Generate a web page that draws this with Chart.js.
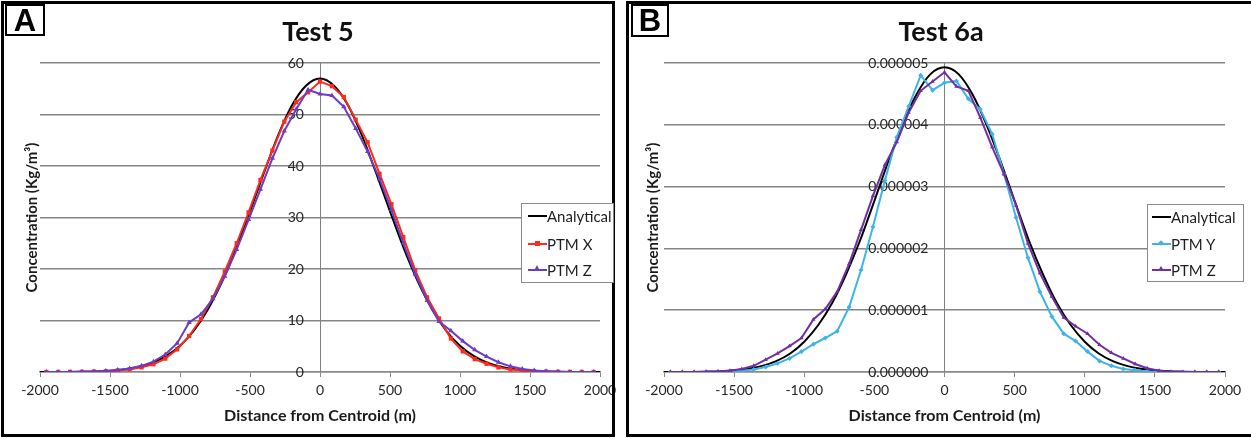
<!DOCTYPE html>
<html>
<head>
<meta charset="utf-8">
<script src="https://cdn.jsdelivr.net/npm/chart.js@4.4.1/dist/chart.umd.min.js"></script>
<style>
  body { margin: 0; width: 1251px; height: 438px; background: #fff; position: relative; overflow: hidden; font-family: Lato, 'Open Sans', sans-serif; }
  .wrap { position: absolute; top: 0; height: 438px; }
  .frame { position: absolute; border: 3px solid #000; box-sizing: border-box; pointer-events: none; }
  .letter { position: absolute; border: 2px solid #000; background: #fff; box-sizing: border-box; font: bold 31px 'Liberation Sans', Arial, sans-serif; text-align: center; line-height: 29px; color: #000; }
  .title { position: absolute; width: 200px; top: 13px; text-align: center; font: bold 27px Lato, sans-serif; line-height: 36px; color: #111; }
  .legend { position: absolute; border: 1px solid #8a8a8a; background: #fff; box-sizing: border-box; }
  .row { position: absolute; height: 18px; line-height: 18px; font: 15px Lato, sans-serif; color: #1e1e1e; white-space: nowrap; }
  .sw { display: inline-block; width: 19px; height: 18px; position: relative; vertical-align: top; }
  .sw i { position: absolute; left: 0; right: 0; top: 8px; height: 2px; }
  .sw b { position: absolute; }
</style>
</head>
<body>

<div class="wrap" style="left:0;width:625px"><canvas id="chart-a" width="625" height="438"></canvas></div>
<div class="wrap" style="left:625px;width:626px"><canvas id="chart-b" width="626" height="438"></canvas></div>

<div class="frame" style="left:1px;top:1px;width:614px;height:436px"></div>
<div class="frame" style="left:626px;top:1px;width:630px;height:436px"></div>

<div class="letter" style="left:5px;top:4px;width:40px;height:32px">A</div>
<div class="letter" style="left:631px;top:4px;width:38px;height:33px">B</div>

<div class="title" style="left:218px">Test 5</div>
<div class="title" style="left:841px">Test 6a</div>

<div class="legend" style="left:521px;top:203px;width:93px;height:80px">
  <div class="row" style="left:6px;top:3px"><span class="sw"><i style="background:#000"></i></span>Analytical</div>
  <div class="row" style="left:6px;top:31px"><span class="sw"><i style="background:#ff2a1a"></i><b style="left:7px;top:6px;width:5px;height:5px;background:#ff2a1a"></b></span>PTM X</div>
  <div class="row" style="left:6px;top:57px"><span class="sw"><i style="background:#6c3cc4"></i><b style="left:6px;top:4px;width:0;height:0;border-left:3px solid transparent;border-right:3px solid transparent;border-bottom:6px solid #6c3cc4"></b></span>PTM Z</div>
</div>

<div class="legend" style="left:1147px;top:204px;width:97px;height:78px">
  <div class="row" style="left:4px;top:3px"><span class="sw"><i style="background:#000"></i></span>Analytical</div>
  <div class="row" style="left:4px;top:30px"><span class="sw"><i style="background:#3db4e6"></i><b style="left:7px;top:6px;width:4px;height:4px;background:#3db4e6;transform:rotate(45deg)"></b></span>PTM Y</div>
  <div class="row" style="left:4px;top:56px"><span class="sw"><i style="background:#7030a0"></i><b style="left:6px;top:5px;width:0;height:0;border-left:3px solid transparent;border-right:3px solid transparent;border-bottom:5px solid #7030a0"></b></span>PTM Z</div>
</div>

<script>
// x positions of the particle-tracking samples (m)
const xGrid = [-1955, -1870, -1785, -1700, -1615, -1530, -1445, -1360, -1275, -1190, -1105, -1020,
  -935, -850, -765, -680, -595, -510, -425, -340, -255, -170, -85, 0, 85, 170, 255, 340, 425, 510,
  595, 680, 765, 850, 935, 1020, 1105, 1190, 1275, 1360, 1445, 1530, 1615, 1700, 1785, 1870, 1955];

// x positions of the analytical curve (m)
const xAnalytical = [-2000, -1900, -1800, -1700, -1600, -1500, -1400, -1300, -1200, -1100, -1000,
  -900, -800, -700, -600, -500, -400, -300, -200, -100, 0, 100, 200, 300, 400, 500, 600, 700, 800,
  900, 1000, 1100, 1200, 1300, 1400, 1500, 1600, 1700, 1800, 1900, 2000];

const xTicks = [-2000, -1500, -1000, -500, 0, 500, 1000, 1500, 2000];

// Test 5 (Kg/m3)
const analyticalA = [0, 0.01, 0.02, 0.05, 0.12, 0.25, 0.5, 0.96, 1.76, 3.07, 5.09, 8.06, 12.2, 17.5,
  23.9, 31.2, 38.7, 45.9, 51.8, 55.6, 57.0, 55.6, 51.8, 45.9, 38.7, 31.2, 23.9, 17.5, 12.2, 8.06, 5.09,
  3.07, 1.76, 0.96, 0.5, 0.25, 0.12, 0.05, 0.02, 0.01, 0];
const ptmXA = [0, 0, 0.02, 0.03, 0.08, 0.15, 0.3, 0.5, 0.9, 1.5, 2.6, 4.4, 7.0, 10.3, 14.5, 19.5, 25.0,
  31.0, 37.3, 43.0, 48.6, 52.4, 54.3, 56.4, 55.5, 53.4, 49.0, 44.6, 38.5, 32.6, 26.2, 19.8, 14.5, 10.4,
  6.5, 4.0, 2.5, 1.6, 0.9, 0.5, 0.3, 0.15, 0.07, 0.03, 0.01, 0, 0];
const ptmZA = [0, 0, 0.02, 0.05, 0.1, 0.2, 0.4, 0.7, 1.2, 2.0, 3.4, 5.6, 9.6, 11.2, 14.2, 18.6, 23.8,
  29.6, 35.5, 41.5, 46.8, 51.0, 54.8, 54.0, 53.7, 51.5, 47.3, 42.8, 37.5, 31.5, 25.0, 19.0, 13.9, 9.8,
  8.0, 6.0, 4.3, 3.0, 1.9, 1.1, 0.6, 0.3, 0.15, 0.05, 0.02, 0, 0];
const yTicksA = [0, 10, 20, 30, 40, 50, 60];

// Test 6a (values in 1e-6 Kg/m3)
const analyticalB = [0, 0.001, 0.002, 0.006, 0.013, 0.027, 0.053, 0.099, 0.176, 0.30, 0.49, 0.76, 1.12,
  1.59, 2.14, 2.77, 3.41, 4.00, 4.49, 4.82, 4.93, 4.82, 4.49, 4.00, 3.41, 2.77, 2.14, 1.59, 1.12, 0.76,
  0.49, 0.30, 0.176, 0.099, 0.053, 0.027, 0.013, 0.006, 0.002, 0.001, 0];
const ptmYB = [0, 0, 0, 0, 0.005, 0.01, 0.02, 0.04, 0.08, 0.14, 0.22, 0.33, 0.45, 0.55, 0.66, 1.05, 1.65,
  2.35, 3.10, 3.80, 4.30, 4.80, 4.56, 4.68, 4.71, 4.42, 4.25, 3.85, 3.20, 2.50, 1.85, 1.30, 0.90, 0.62,
  0.50, 0.33, 0.18, 0.10, 0.05, 0.03, 0.01, 0, 0, 0, 0, 0, 0];
const ptmZB = [0, 0, 0, 0.005, 0.01, 0.02, 0.05, 0.10, 0.20, 0.30, 0.42, 0.55, 0.85, 1.02, 1.30, 1.75,
  2.30, 2.85, 3.35, 3.72, 4.20, 4.55, 4.70, 4.85, 4.62, 4.55, 4.12, 3.64, 3.20, 2.70, 2.08, 1.60, 1.22,
  0.88, 0.74, 0.62, 0.44, 0.31, 0.22, 0.13, 0.06, 0.02, 0.005, 0, 0, 0, 0];
const yTicksB = [0, 1, 2, 3, 4, 5];
const MICRO = 1e-6;


function pts(xs, ys, k = 1) {
    return xs.map((x, i) => ({ x: x, y: ys[i] * k }));
}

function curve(label, data, color) {
    return {
        label: label, data: data, borderColor: color, backgroundColor: color, yAxisID: 'y',
        borderWidth: 2, pointRadius: 0, cubicInterpolationMode: 'monotone', order: 3
    };
}

function marked(label, data, color, style, radius, order) {
    return {
        label: label, data: data, borderColor: color, backgroundColor: color, yAxisID: 'y',
        borderWidth: 2, pointStyle: style, pointRadius: radius, pointBorderWidth: 0,
        tension: 0, order: order
    };
}

function makeChart(id, datasets, o) {
    const tickFont = { family: 'Lato', size: 14 };
    const setTicks = s => { s.ticks = o.yTicks.map(v => ({ value: v })); };
    new Chart(document.getElementById(id), {
        type: 'line',
        data: { datasets: datasets },
        options: {
            responsive: false,
            animation: false,
            layout: { padding: { top: 63, right: o.padRight, bottom: 0, left: 0 } },
            plugins: { legend: { display: false }, tooltip: { enabled: false } },
            scales: {
                x: {
                    type: 'linear', position: 'bottom', min: -2000, max: 2000,
                    afterBuildTicks: s => { s.ticks = xTicks.map(v => ({ value: v })); },
                    ticks: { color: '#262626', font: tickFont, padding: 5, maxRotation: 0, callback: v => String(v) },
                    grid: { drawOnChartArea: false, drawTicks: true, tickLength: 5, color: '#8a8a8a' },
                    border: { display: true, color: '#8a8a8a', width: 1.5 },
                    title: {
                        display: true, text: 'Distance from Centroid (m)', color: '#1a1a1a',
                        font: { family: 'Lato', size: 16, weight: 'bold' }, padding: { top: 4, bottom: 13 }
                    },
                    afterFit: s => { s.height = 66; s.paddingLeft = 0; s.paddingRight = 0; }
                },
                // value axis crossing at x = 0: gridlines and the vertical axis line
                y: {
                    type: 'linear', position: { x: 0 }, min: 0, max: o.yMax,
                    afterBuildTicks: setTicks,
                    ticks: { display: false },
                    grid: { color: '#858585', lineWidth: 1.5, drawTicks: false },
                    border: { display: true, color: '#808080', width: 1 }
                },
                // same axis again, only its labels, set a little left of the crossing
                yLabels: {
                    type: 'linear', position: { x: o.labelAt }, min: 0, max: o.yMax,
                    afterBuildTicks: setTicks,
                    ticks: { color: '#262626', font: tickFont, callback: v => o.fmt(v) },
                    grid: { display: false },
                    border: { display: false }
                },
                yTitle: {
                    type: 'linear', position: 'left',
                    ticks: { display: false },
                    grid: { display: false },
                    border: { display: false },
                    title: {
                        display: true, text: 'Concentration (Kg/m³)', color: '#1a1a1a',
                        font: { family: 'Lato', size: 15, weight: 'bold' }, padding: { top: o.titlePad, bottom: 0 }
                    },
                    afterFit: s => { s.width = o.leftW; }
                }
            }
        }
    });
}


/* ============================== PANEL A ============================== */
makeChart('chart-a', [
    curve('Analytical', pts(xAnalytical, analyticalA), '#000000'),
    marked('PTM X', pts(xGrid, ptmXA), '#ff2a1a', 'rect', 3, 2),
    marked('PTM Z', pts(xGrid, ptmZA), '#6c3cc4', 'triangle', 3, 1)
], {
    padRight: 25, leftW: 40, titlePad: 23, labelAt: -115,
    yMax: 60, yTicks: yTicksA,
    fmt: v => String(v)
});


/* ============================== PANEL B ============================== */
makeChart('chart-b', [
    curve('Analytical', pts(xAnalytical, analyticalB, MICRO), '#000000'),
    marked('PTM Y', pts(xGrid, ptmYB, MICRO), '#3db4e6', 'rectRot', 2.5, 2),
    marked('PTM Z', pts(xGrid, ptmZB, MICRO), '#7030a0', 'triangle', 2.5, 1)
], {
    padRight: 26, leftW: 39, titlePad: 19, labelAt: -115,
    yMax: 5 * MICRO, yTicks: yTicksB.map(v => v * MICRO),
    fmt: v => v.toFixed(6)
});
</script>
</body>
</html>
